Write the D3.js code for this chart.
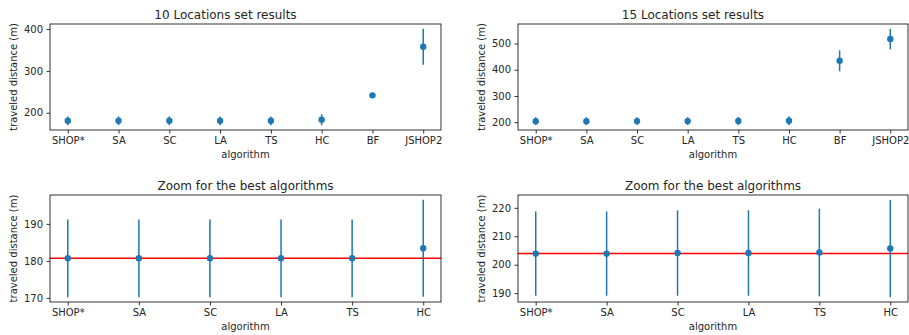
<!DOCTYPE html>
<html>
<head>
<meta charset="utf-8">
<script src="https://cdn.jsdelivr.net/npm/d3@7"></script>
<style>
  body { margin: 0; background: #fff; }
  svg text { font-family: "DejaVu Sans", sans-serif; fill: #262626; }
</style>
</head>
<body>
<svg id="chart" width="909" height="335"></svg>
<script>
// ---- data ----
const algosAll  = ["SHOP*", "SA", "SC", "LA", "TS", "HC", "BF", "JSHOP2"];
const algosBest = ["SHOP*", "SA", "SC", "LA", "TS", "HC"];

// 10 locations: mean and error half-width
const mean10 = [180.7, 180.7, 180.7, 180.7, 180.7, 183.4, 241.5, 357.5];
const err10  = [10.5, 10.5, 10.5, 10.5, 10.5, 13.1, 2.0, 43];

// 15 locations
const mean15 = [203.9, 203.9, 204.1, 204.1, 204.3, 205.7, 434, 517];
const err15  = [14.8, 14.8, 15.0, 15.0, 15.4, 17.1, 40, 39];

const ticks10     = [200, 300, 400];
const ticks15     = [200, 300, 400, 500];
const ticks10Best = [170, 180, 190];
const ticks15Best = [190, 200, 210, 220];

const blue = "#1f77b4";

const svg = d3.select("#chart");

function panel(opts) {
  const { left, right, top, bottom, cats, means, errs, yTicks, title, titleShift, refLine } = opts;
  const w = right - left, h = bottom - top;
  const g = svg.append("g").attr("transform", `translate(${left},${top})`);

  // matplotlib-style 5% margins
  const lo = d3.min(means, (d, i) => d - errs[i]);
  const hi = d3.max(means, (d, i) => d + errs[i]);
  const pad = (hi - lo) * 0.05;
  const y = d3.scaleLinear().domain([lo - pad, hi + pad]).range([h, 0]);
  const n = cats.length;
  const xp = d3.scaleLinear().domain([-0.05 * (n - 1), (n - 1) * 1.05]).range([0, w]);
  const x = c => xp(cats.indexOf(c));

  // axes
  const xAxis = g.append("g")
    .attr("transform", `translate(0,${h})`)
    .call(d3.axisBottom(d3.scalePoint().domain(cats).range([xp(0), xp(n - 1)]))
      .tickSize(3.5).tickPadding(3.5));
  const yAxis = g.append("g")
    .call(d3.axisLeft(y).tickValues(yTicks).tickSize(3.5).tickPadding(3.5));
  [xAxis, yAxis].forEach(a => {
    a.select(".domain").remove();
    a.selectAll(".tick line").attr("stroke", "#000").attr("stroke-width", 0.8);
    a.selectAll("text").style("font-size", "10px").attr("fill", "#262626");
  });

  // reference line
  if (refLine != null) {
    g.append("line")
      .attr("x1", 0).attr("x2", w)
      .attr("y1", y(refLine)).attr("y2", y(refLine))
      .attr("stroke", "red").attr("stroke-width", 1.5);
  }

  // error bars + points
  const data = cats.map((c, i) => ({ c, m: means[i], e: errs[i] }));
  g.selectAll(".eb").data(data).enter().append("line")
    .attr("x1", d => x(d.c)).attr("x2", d => x(d.c))
    .attr("y1", d => y(d.m - d.e)).attr("y2", d => y(d.m + d.e))
    .attr("stroke", blue).attr("stroke-width", 1.5);
  g.selectAll(".pt").data(data).enter().append("circle")
    .attr("cx", d => x(d.c)).attr("cy", d => y(d.m))
    .attr("r", 3.2).attr("fill", blue);

  // frame
  g.append("rect")
    .attr("width", w).attr("height", h)
    .attr("fill", "none").attr("stroke", "#000").attr("stroke-width", 0.8);

  // labels
  g.append("text")
    .attr("x", w / 2 + (titleShift || 0)).attr("y", -5)
    .attr("text-anchor", "middle")
    .style("font-size", "12px")
    .text(title);
  g.append("text")
    .attr("x", w / 2).attr("y", h + 28)
    .attr("text-anchor", "middle")
    .style("font-size", "10px")
    .text("algorithm");
  g.append("text")
    .attr("transform", `translate(${-33},${h / 2}) rotate(-90)`)
    .attr("text-anchor", "middle")
    .style("font-size", "10px")
    .text("traveled distance (m)");
}

panel({ left: 50, right: 441, top: 24, bottom: 130, cats: algosAll,
  means: mean10, errs: err10, yTicks: ticks10, title: "10 Locations set results", titleShift: -20 });
panel({ left: 518, right: 908, top: 24, bottom: 130, cats: algosAll,
  means: mean15, errs: err15, yTicks: ticks15, title: "15 Locations set results", titleShift: -20 });
panel({ left: 50, right: 441, top: 195, bottom: 302, cats: algosBest,
  means: mean10.slice(0, 6), errs: err10.slice(0, 6), yTicks: ticks10Best,
  title: "Zoom for the best algorithms", refLine: mean10[0] });
panel({ left: 518, right: 908, top: 195, bottom: 302, cats: algosBest,
  means: mean15.slice(0, 6), errs: err15.slice(0, 6), yTicks: ticks15Best,
  title: "Zoom for the best algorithms", refLine: mean15[0] });
</script>
</body>
</html>
